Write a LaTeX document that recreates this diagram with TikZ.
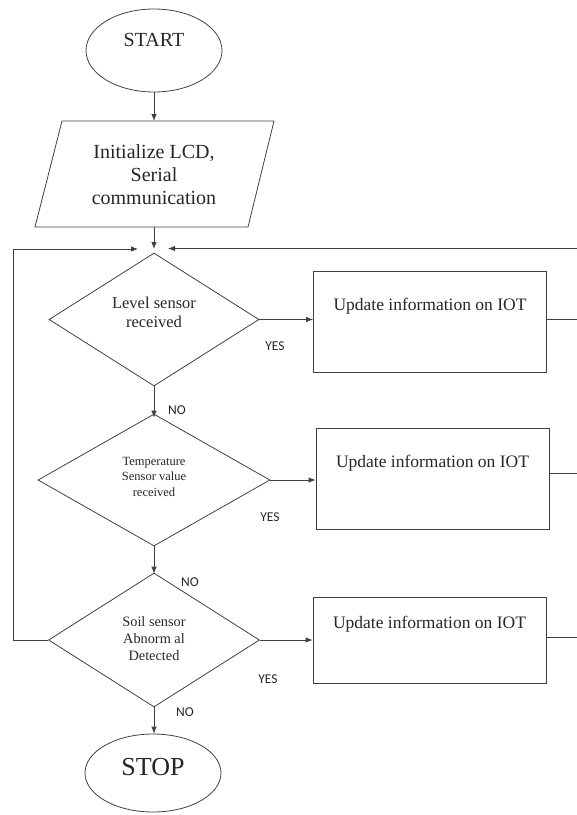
\documentclass[tikz,border=0pt]{standalone}
\usepackage{fontspec}
\setmainfont{Liberation Serif}
\newfontfamily\serfont{Liberation Serif}
\newfontfamily\labfont{Carlito}
\usetikzlibrary{shapes.geometric,arrows.meta}
\begin{document}
\begin{tikzpicture}[x=1pt,y=-1pt,
  line width=0.8pt,
  ln/.style={draw=black!75},
  arr/.style={ln,-{Latex[length=7pt,width=5.5pt]}},
  term/.style={ellipse,draw=black!75,inner sep=0pt},
  dec/.style={diamond,draw=black!75,inner sep=0pt},
  iotbox/.style={rectangle,draw=black!75,inner sep=0pt,minimum width=233pt},
  txt/.style={align=center,text=black!85,inner sep=0pt},
  yn/.style={text=black!85,inner sep=0pt,font=\labfont\fontsize{13.5}{15}\selectfont}]
\useasboundingbox (0,0) rectangle (577,815);

% START
\node[term,minimum width=136pt,minimum height=83pt] (start) at (154,50.5) {};
\node[txt,font=\serfont\fontsize{20}{23}\selectfont] (starttxt) at (154,40) {START};

% Initialize parallelogram
\draw[black!75] (35,227) coordinate (iBL) -- (62,121) coordinate (iTL) -- (274,121) coordinate (iTR) -- (248,227) coordinate (iBR) -- cycle;
\coordinate (iTop) at (154,121);
\coordinate (iBot) at (154,227);
\node[txt,font=\serfont\fontsize{20}{23}\selectfont] (init) at (154,175) {Initialize LCD,\\Serial\\communication};

% merge point
\coordinate (joinD) at (154,249);
\coordinate (joinL) at (138,249);
\coordinate (joinR) at (168,248.5);

% Decision 1
\node[dec,minimum width=210pt,minimum height=133pt] (d1) at (154,319.5) {};
\node[txt,font=\serfont\fontsize{16.5}{19}\selectfont] (d1txt) at (154,312.5) {Level sensor\\received};

% Decision 2
\node[dec,minimum width=232pt,minimum height=132pt] (d2) at (154,480) {};
\node[txt,font=\serfont\fontsize{12.5}{15.5}\selectfont] (d2txt) at (154,476.5) {Temperature\\Sensor value\\received};

% Decision 3
\node[dec,minimum width=211pt,minimum height=134pt] (d3) at (154,640) {};
\node[txt,font=\serfont\fontsize{14.3}{17}\selectfont] (d3txt) at (154,639) {Soil sensor\\Abnorm al\\Detected};

% STOP
\node[term,minimum width=136pt,minimum height=78pt] (stop) at (153,773) {};
\node[txt,font=\serfont\fontsize{26}{30}\selectfont] (stoptxt) at (153,767) {STOP};

% IOT boxes
\node[iotbox,minimum height=101pt] (b1) at (430,321.5) {};
\node[txt,font=\serfont\fontsize{17.5}{20}\selectfont] (b1txt) at (430,306) {Update information on IOT};
\node[iotbox,minimum height=101pt] (b2) at (432.5,478.5) {};
\node[txt,font=\serfont\fontsize{17.5}{20}\selectfont] (b2txt) at (432.5,463) {Update information on IOT};
\node[iotbox,minimum height=86pt] (b3) at (429.5,640) {};
\node[txt,font=\serfont\fontsize{17.5}{20}\selectfont] (b3txt) at (429.5,624) {Update information on IOT};

% right edge ends
\coordinate (e0) at (577,248.5);
\coordinate (e1) at (577,319.5);
\coordinate (e2) at (577,473);
\coordinate (e3) at (577,637);
\coordinate (lft) at (13,249);

% connectors
\draw[arr] (start.south) -- (iTop);
\draw[arr] (iBot) -- (joinD);
\draw[arr] (e0) -- (joinR);
\draw[arr] (d3.west) -- (d3.west -| lft) -- (lft) -- (joinL);

\draw[arr] (d1.east) -- (b1.west |- d1.east);
\draw[ln] (b1.east |- e1) -- (e1);
\draw[arr] (d1.south) -- ([yshift=-4pt]d2.north);
\draw[arr] (d2.east) -- (b2.west |- d2.east);
\draw[ln] (b2.east |- e2) -- (e2);
\draw[arr] (d2.south) -- ([yshift=-1pt]d3.north);
\draw[arr] (d3.east) -- (b3.west |- d3.east);
\draw[ln] (b3.east |- e3) -- (e3);
\draw[arr] (d3.south) -- (stop.north -| d3.south);

% labels
\node[yn] (yes1) at (275,346) {YES};
\node[yn] (no1) at (177,410) {NO};
\node[yn] (yes2) at (270,517) {YES};
\node[yn] (no2) at (190,582) {NO};
\node[yn] (yes3) at (268,679) {YES};
\node[yn] (no3) at (185,712) {NO};
\end{tikzpicture}
\end{document}
